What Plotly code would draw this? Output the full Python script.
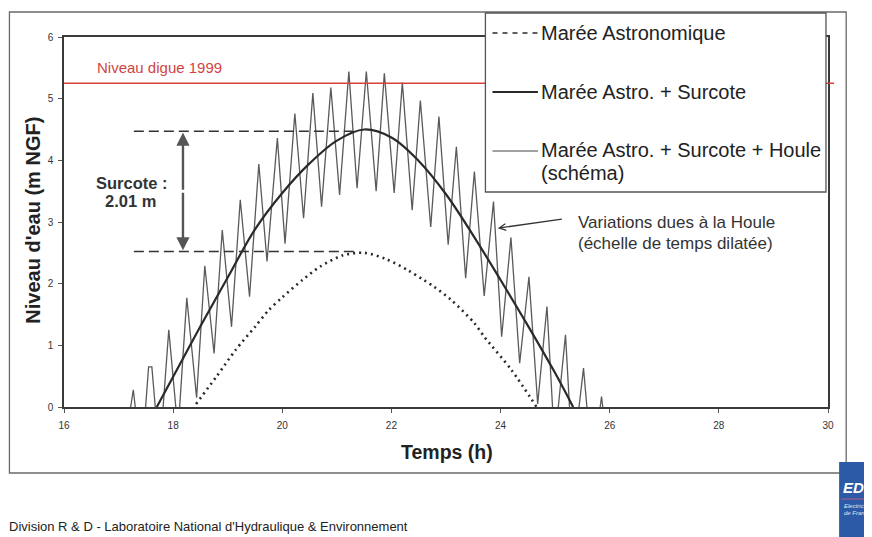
import plotly.graph_objects as go

# ---------------- data ----------------
astro_t = [18.42, 18.80, 19.14, 19.50, 19.75, 20.00, 20.37, 20.70, 21.11, 21.50,
           21.90, 22.30, 22.59, 22.78, 23.09, 23.52, 23.70, 24.20, 24.66]
astro_y = [0.05, 0.50, 0.92, 1.30, 1.57, 1.78, 2.06, 2.28, 2.46, 2.50,
           2.40, 2.22, 2.06, 1.95, 1.74, 1.36, 1.14, 0.60, 0.00]

surcote_t = [17.70, 18.00, 18.50, 19.00, 19.50, 20.00, 20.50, 21.00, 21.50,
             22.00, 22.50, 23.00, 23.50, 24.00, 24.50, 25.00, 25.33]
surcote_y = [0.00, 0.49, 1.31, 2.10, 2.88, 3.47, 3.95, 4.32, 4.50,
             4.37, 3.99, 3.45, 2.78, 2.06, 1.32, 0.55, 0.00]

houle_t = [17.10, 17.27, 17.42, 17.55, 17.61, 17.75, 17.92, 18.09, 18.25, 18.43,
           18.58, 18.75, 18.90, 19.07, 19.23, 19.40, 19.57, 19.72, 19.91, 20.05,
           20.23, 20.39, 20.56, 20.72, 20.89, 21.05, 21.22, 21.37, 21.54, 21.72,
           21.87, 22.05, 22.20, 22.38, 22.53, 22.72, 22.87, 23.04, 23.19, 23.36,
           23.52, 23.70, 23.87, 24.02, 24.19, 24.35, 24.52, 24.68, 24.85, 24.99,
           25.19, 25.32, 25.52, 25.68, 25.85, 25.98]
houle_y = [-0.70, 0.28, -0.90, 0.65, 0.65, -0.80, 1.25, -0.40, 1.77, 0.15,
           2.29, 0.87, 2.87, 1.30, 3.36, 1.79, 3.94, 2.36, 4.36, 2.65,
           4.76, 3.06, 5.09, 3.25, 5.18, 3.44, 5.44, 3.55, 5.44, 3.50,
           5.41, 3.47, 5.26, 3.19, 4.97, 2.92, 4.71, 2.63, 4.22, 2.09,
           3.82, 1.80, 3.33, 1.14, 2.75, 0.71, 2.11, 0.05, 1.63, -0.60,
           1.17, -0.90, 0.63, -1.00, 0.17, -0.80]

digue_level = 5.25
surcote_high = 4.47
surcote_low = 2.52

x_ticks = [16, 18, 20, 22, 24, 26, 28, 30]
y_ticks = [0, 1, 2, 3, 4, 5, 6]

FONT = "Liberation Sans, Arial, sans-serif"
DARK = "#2a2a2a"
GREY = "#555555"

fig = go.Figure()

fig.add_trace(go.Scatter(x=houle_t, y=houle_y, mode="lines",
                         line=dict(color="#5a5a5a", width=1.3),
                         name="Marée Astro. + Surcote + Houle (schéma)"))
fig.add_trace(go.Scatter(x=surcote_t, y=surcote_y, mode="lines",
                         line=dict(color=DARK, width=2.2, shape="spline", smoothing=1.0),
                         name="Marée Astro. + Surcote"))
fig.add_trace(go.Scatter(x=astro_t, y=astro_y, mode="lines",
                         line=dict(color=DARK, width=2.6, dash="2px,4px",
                                   shape="spline", smoothing=0.8),
                         name="Marée Astronomique"))

# paper coordinate helpers, in screen pixels (plot area: x 64..820 px, y 37..407 px)
def px(xp):
    return (xp - 64) / 756.0

def py(yp):
    return (407 - yp) / 370.0

shapes = []
# outer frame
shapes.append(dict(type="rect", xref="paper", yref="paper",
                   x0=px(10), x1=px(838), y0=py(473), y1=py(12),
                   line=dict(color="#6a6a6a", width=1.3), layer="below"))
# red dike level
shapes.append(dict(type="line", xref="paper", yref="y",
                   x0=0, x1=px(826), y0=digue_level, y1=digue_level,
                   line=dict(color="#d9403a", width=1.5)))
# surcote dashed guides
shapes.append(dict(type="line", xref="x", yref="y", x0=17.28, x1=21.30,
                   y0=surcote_high, y1=surcote_high,
                   line=dict(color="#333333", width=1.5, dash="10px,5px")))
shapes.append(dict(type="line", xref="x", yref="y", x0=17.28, x1=21.33,
                   y0=surcote_low, y1=surcote_low,
                   line=dict(color="#333333", width=1.5, dash="10px,5px")))
# legend box
shapes.append(dict(type="rect", xref="paper", yref="paper",
                   x0=px(481), x1=px(818), y0=py(192), y1=py(13),
                   fillcolor="white", line=dict(color="#555555", width=1.3)))
# legend samples
shapes.append(dict(type="line", xref="paper", yref="paper",
                   x0=px(488), x1=px(533), y0=py(33), y1=py(33),
                   line=dict(color=DARK, width=1.5, dash="5px,5px")))
shapes.append(dict(type="line", xref="paper", yref="paper",
                   x0=px(488), x1=px(533), y0=py(92), y1=py(92),
                   line=dict(color=DARK, width=2)))
shapes.append(dict(type="line", xref="paper", yref="paper",
                   x0=px(488), x1=px(533), y0=py(151), y1=py(151),
                   line=dict(color="#444444", width=1.2)))
# EDF logo block
shapes.append(dict(type="rect", xref="paper", yref="paper",
                   x0=px(831), x1=px(876), y0=py(540), y1=py(462),
                   fillcolor="#2d5aa6", line=dict(width=0)))
shapes.append(dict(type="line", xref="paper", yref="paper",
                   x0=px(833), x1=px(876), y0=py(499), y1=py(499),
                   line=dict(color="#b05a8a", width=1)))

ann = []
# red label
ann.append(dict(x=16.56, y=5.50, xref="x", yref="y", text="Niveau digue 1999",
                showarrow=False, xanchor="left", yanchor="middle",
                font=dict(family=FONT, size=15, color="#d0453f")))
# surcote label
ann.append(dict(x=px(131), y=py(183), xref="paper", yref="paper", text="<b>Surcote :</b>",
                showarrow=False, xanchor="center", yanchor="middle",
                font=dict(family=FONT, size=16.5, color="#333333")))
ann.append(dict(x=px(130), y=py(201), xref="paper", yref="paper", text="<b>2.01 m</b>",
                showarrow=False, xanchor="center", yanchor="middle",
                font=dict(family=FONT, size=16.5, color="#333333")))
# double arrow
ann.append(dict(x=18.18, y=surcote_high - 0.02, ax=18.18, ay=3.5, xref="x", yref="y",
                axref="x", ayref="y", text="", showarrow=True, arrowhead=2,
                arrowsize=1.1, arrowwidth=2.4, arrowcolor=GREY))
ann.append(dict(x=18.18, y=surcote_low + 0.02, ax=18.18, ay=3.5, xref="x", yref="y",
                axref="x", ayref="y", text="", showarrow=True, arrowhead=2,
                arrowsize=1.1, arrowwidth=2.4, arrowcolor=GREY))
# houle arrow + text
ann.append(dict(x=23.95, y=2.90, ax=25.15, ay=3.05, xref="x", yref="y",
                axref="x", ayref="y", text="", showarrow=True, arrowhead=5,
                arrowsize=1.0, arrowwidth=1.3, arrowcolor="#333333"))
ann.append(dict(x=px(571), y=py(222), xref="paper", yref="paper",
                text="Variations dues à la Houle", showarrow=False,
                xanchor="left", yanchor="middle",
                font=dict(family=FONT, size=17, color="#333333")))
ann.append(dict(x=px(571), y=py(243), xref="paper", yref="paper",
                text="(échelle de temps dilatée)", showarrow=False,
                xanchor="left", yanchor="middle",
                font=dict(family=FONT, size=17, color="#333333")))
# legend texts
leg_font = dict(family=FONT, size=20, color="#222222")
for txt, yy in [("Marée Astronomique", 33), ("Marée Astro. + Surcote", 92),
                ("Marée Astro. + Surcote + Houle", 150), ("(schéma)", 173)]:
    ann.append(dict(x=px(534), y=py(yy), xref="paper", yref="paper", text=txt,
                    showarrow=False, xanchor="left", yanchor="middle", font=leg_font))
# axis titles
ann.append(dict(x=px(443), y=py(452), xref="paper", yref="paper", text="<b>Temps (h)</b>",
                showarrow=False, xanchor="center", yanchor="middle",
                font=dict(family=FONT, size=19.5, color="#222222")))
ann.append(dict(x=px(33), y=py(220), xref="paper", yref="paper",
                text="<b>Niveau d'eau (m NGF)</b>", textangle=-90,
                showarrow=False, xanchor="center", yanchor="middle",
                font=dict(family=FONT, size=20, color="#222222")))
# footer
ann.append(dict(x=px(8), y=py(526), xref="paper", yref="paper",
                text="Division R & D - Laboratoire National d'Hydraulique & Environnement",
                showarrow=False, xanchor="left", yanchor="middle",
                font=dict(family=FONT, size=13, color="#222222")))
# logo text
ann.append(dict(x=px(833), y=py(487), xref="paper", yref="paper", text="<b><i>EDF</i></b>",
                showarrow=False, xanchor="left", yanchor="middle",
                font=dict(family=FONT, size=15, color="white")))
ann.append(dict(x=px(834), y=py(506), xref="paper", yref="paper", text="<i>Electricité</i>",
                showarrow=False, xanchor="left", yanchor="middle",
                font=dict(family=FONT, size=6, color="#dfe6f5")))
ann.append(dict(x=px(834), y=py(513), xref="paper", yref="paper", text="<i>de France</i>",
                showarrow=False, xanchor="left", yanchor="middle",
                font=dict(family=FONT, size=6, color="#dfe6f5")))

# the page adds an 8 px body margin, so the figure is 8 px smaller and offset
fig.update_layout(
    width=864, height=529,
    margin=dict(l=56, r=44, t=29, b=130, pad=0),
    paper_bgcolor="white", plot_bgcolor="white",
    showlegend=False,
    shapes=shapes, annotations=ann,
    xaxis=dict(range=[16, 30], tickvals=x_ticks, ticktext=[str(v) for v in x_ticks],
               showgrid=False, zeroline=False, showline=True, mirror=True,
               linecolor="#3a3a3a", linewidth=1.6, ticks="outside", ticklen=4,
               tickcolor="#555555", ticklabelstandoff=4,
               tickfont=dict(family=FONT, size=10, color="#333333")),
    yaxis=dict(range=[0, 6], tickvals=y_ticks, ticktext=[str(v) for v in y_ticks],
               showgrid=False, zeroline=False, showline=True, mirror=True,
               linecolor="#3a3a3a", linewidth=1.6, ticks="outside", ticklen=4,
               tickcolor="#555555", ticklabelstandoff=3,
               tickfont=dict(family=FONT, size=10, color="#333333")),
)

fig.write_html("out.html")
